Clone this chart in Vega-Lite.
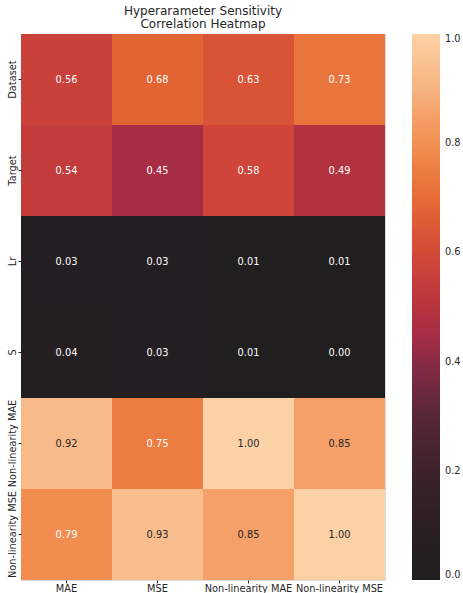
{
  "$schema": "https://vega.github.io/schema/vega-lite/v6.json",
  "width": 364,
  "height": 546,
  "autosize": {"type": "none"},
  "padding": {"left": 21, "top": 34, "right": 78, "bottom": 13},
  "background": "white",
  "title": {
    "text": ["Hyperarameter Sensitivity", "Correlation Heatmap"],
    "font": "DejaVu Sans",
    "fontSize": 12,
    "fontWeight": "normal",
    "color": "#262626",
    "lineHeight": 13,
    "anchor": "middle",
    "offset": 3
  },
  "data": {
    "values": [
      {"param": "Dataset", "metric": "MAE", "value": 0.56},
      {"param": "Dataset", "metric": "MSE", "value": 0.68},
      {"param": "Dataset", "metric": "Non-linearity MAE", "value": 0.63},
      {"param": "Dataset", "metric": "Non-linearity MSE", "value": 0.73},
      {"param": "Target", "metric": "MAE", "value": 0.54},
      {"param": "Target", "metric": "MSE", "value": 0.45},
      {"param": "Target", "metric": "Non-linearity MAE", "value": 0.58},
      {"param": "Target", "metric": "Non-linearity MSE", "value": 0.49},
      {"param": "Lr", "metric": "MAE", "value": 0.03},
      {"param": "Lr", "metric": "MSE", "value": 0.03},
      {"param": "Lr", "metric": "Non-linearity MAE", "value": 0.01},
      {"param": "Lr", "metric": "Non-linearity MSE", "value": 0.01},
      {"param": "S", "metric": "MAE", "value": 0.04},
      {"param": "S", "metric": "MSE", "value": 0.03},
      {"param": "S", "metric": "Non-linearity MAE", "value": 0.01},
      {"param": "S", "metric": "Non-linearity MSE", "value": 0.00},
      {"param": "Non-linearity MAE", "metric": "MAE", "value": 0.92},
      {"param": "Non-linearity MAE", "metric": "MSE", "value": 0.75},
      {"param": "Non-linearity MAE", "metric": "Non-linearity MAE", "value": 1.00},
      {"param": "Non-linearity MAE", "metric": "Non-linearity MSE", "value": 0.85},
      {"param": "Non-linearity MSE", "metric": "MAE", "value": 0.79},
      {"param": "Non-linearity MSE", "metric": "MSE", "value": 0.93},
      {"param": "Non-linearity MSE", "metric": "Non-linearity MAE", "value": 0.85},
      {"param": "Non-linearity MSE", "metric": "Non-linearity MSE", "value": 1.00}
    ]
  },
  "encoding": {
    "x": {
      "field": "metric",
      "type": "nominal",
      "sort": ["MAE", "MSE", "Non-linearity MAE", "Non-linearity MSE"],
      "scale": {"paddingInner": 0, "paddingOuter": 0},
      "axis": {
        "title": null,
        "labelAngle": 0,
        "labelFont": "DejaVu Sans",
        "labelFontSize": 9.8,
        "labelColor": "#262626",
        "labelPadding": 0,
        "tickColor": "#262626",
        "tickSize": 3,
        "domain": false,
        "labelOverlap": false
      }
    },
    "y": {
      "field": "param",
      "type": "nominal",
      "sort": ["Dataset", "Target", "Lr", "S", "Non-linearity MAE", "Non-linearity MSE"],
      "scale": {"paddingInner": 0, "paddingOuter": 0},
      "axis": {
        "title": null,
        "labelAngle": -90,
        "labelAlign": "center",
        "labelBaseline": "bottom",
        "labelFont": "DejaVu Sans",
        "labelFontSize": 9.8,
        "labelColor": "#262626",
        "labelPadding": 1,
        "tickColor": "#262626",
        "tickSize": 3,
        "domain": false,
        "labelOverlap": false
      }
    }
  },
  "layer": [
    {
      "mark": {"type": "rect", "strokeWidth": 0},
      "encoding": {
        "color": {
          "field": "value",
          "type": "quantitative",
          "scale": {
            "domain": [0, 0.1, 0.2, 0.3, 0.4, 0.45, 0.49, 0.54, 0.58, 0.63, 0.68, 0.73, 0.79, 0.85, 0.92, 1.0],
            "range": ["#201e1f", "#2b1f24", "#3d222b", "#572736", "#8a2b46", "#a72d45", "#b3323f", "#c33c3c", "#d04439", "#d95336", "#e26433", "#ea753c", "#f18d4f", "#f4a068", "#f7ba88", "#fdd1a6"],
            "interpolate": "rgb"
          },
          "legend": {
            "title": null,
            "orient": "none",
            "legendX": 391,
            "legendY": 0,
            "direction": "vertical",
            "gradientLength": 546,
            "gradientThickness": 28,
            "gradientStrokeWidth": 0,
            "values": [0, 0.2, 0.4, 0.6, 0.8, 1.0],
            "format": ".1f",
            "labelFont": "DejaVu Sans",
            "labelFontSize": 9.8,
            "labelColor": "#262626",
            "labelOffset": 5,
            "labelBaseline": "middle",
            "labelOverlap": false
          }
        }
      }
    },
    {
      "mark": {"type": "text", "font": "DejaVu Sans", "fontSize": 9.8},
      "encoding": {
        "text": {"field": "value", "type": "quantitative", "format": ".2f"},
        "color": {
          "condition": {"test": "datum.value > 0.8", "value": "#262626"},
          "value": "#ffffff"
        }
      }
    }
  ]
}
